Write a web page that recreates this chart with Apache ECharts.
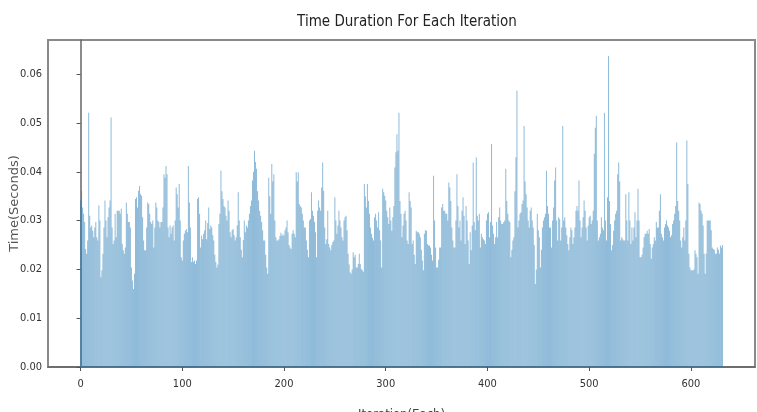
<!DOCTYPE html>
<html lang="en">
  <head>
    <meta charset="UTF-8" />
    <title>Time Duration For Each Iteration</title>
    <script src="https://cdn.jsdelivr.net/npm/echarts@6/dist/echarts.min.js"></script>
    <style>
      html,
      body {
        margin: 0;
        padding: 0;
        background: #fff;
      }
      #chart {
        width: 757px;
        height: 412px;
      }
    </style>
  </head>
  <body>
    <div id="chart"></div>
    <script>
      // time per iteration (seconds), iterations 0..631
      const part1 = [
        0.0341, 0.0361, 0.0327, 0.0314, 0.0297, 0.0242, 0.0232, 0.0259, 0.0521, 0.0310,
        0.0286, 0.0290, 0.0279, 0.0266, 0.0286, 0.0297, 0.0266, 0.0259, 0.0331, 0.0300,
        0.0184, 0.0198, 0.0232, 0.0286, 0.0341, 0.0300, 0.0266, 0.0307, 0.0327, 0.0341,
        0.0511, 0.0286, 0.0252, 0.0259, 0.0314, 0.0266, 0.0320, 0.0320, 0.0320, 0.0314,
        0.0324, 0.0252, 0.0239, 0.0232, 0.0245, 0.0337, 0.0314, 0.0297, 0.0297, 0.0286,
        0.0204, 0.0177, 0.0160, 0.0191, 0.0344, 0.0348, 0.0327, 0.0361, 0.0371, 0.0354,
        0.0351, 0.0307, 0.0259, 0.0239, 0.0239, 0.0286, 0.0337, 0.0334, 0.0314, 0.0297,
        0.0293, 0.0300, 0.0245, 0.0286, 0.0337, 0.0327, 0.0300, 0.0297, 0.0286, 0.0297,
        0.0297, 0.0327, 0.0395, 0.0388, 0.0412, 0.0395, 0.0286, 0.0266, 0.0290, 0.0273,
        0.0286, 0.0290, 0.0259, 0.0300, 0.0368, 0.0354, 0.0327, 0.0375, 0.0300, 0.0225,
        0.0218, 0.0259, 0.0273, 0.0279, 0.0283, 0.0276, 0.0412, 0.0337, 0.0286, 0.0215,
        0.0225, 0.0215, 0.0218, 0.0211, 0.0218, 0.0344, 0.0348, 0.0314
      ];
      const part2 = [
        0.0245, 0.0269, 0.0262, 0.0273, 0.0280, 0.0300, 0.0262, 0.0295, 0.0327, 0.0283,
        0.0290, 0.0286, 0.0270, 0.0259, 0.0230, 0.0215, 0.0204, 0.0210, 0.0293, 0.0314,
        0.0402, 0.0360, 0.0344, 0.0330, 0.0327, 0.0310, 0.0300, 0.0341, 0.0320, 0.0276,
        0.0266, 0.0280, 0.0283, 0.0270, 0.0259, 0.0266, 0.0290, 0.0358, 0.0300, 0.0266,
        0.0240, 0.0225, 0.0260, 0.0300, 0.0276, 0.0290, 0.0286, 0.0300, 0.0314, 0.0330,
        0.0341, 0.0382, 0.0400, 0.0443, 0.0420, 0.0406, 0.0360, 0.0341, 0.0320, 0.0310,
        0.0297, 0.0280, 0.0259, 0.0259, 0.0230, 0.0204, 0.0191, 0.0388, 0.0350, 0.0314,
        0.0416, 0.0380, 0.0395, 0.0300, 0.0266, 0.0259, 0.0259, 0.0262, 0.0269, 0.0275,
        0.0269, 0.0272, 0.0269, 0.0280, 0.0286, 0.0300, 0.0276, 0.0250, 0.0245, 0.0242,
        0.0273, 0.0280, 0.0273, 0.0266, 0.0399, 0.0380, 0.0399, 0.0334, 0.0330, 0.0327,
        0.0314, 0.0300, 0.0286, 0.0286, 0.0259, 0.0240, 0.0225, 0.0300, 0.0303, 0.0358,
        0.0320, 0.0310, 0.0297, 0.0276, 0.0225, 0.0320, 0.0341, 0.0327, 0.0320, 0.0368,
        0.0419, 0.0361, 0.0286, 0.0252, 0.0262, 0.0320, 0.0252, 0.0245
      ];
      const part3 = [
        0.0239, 0.0250, 0.0256, 0.0259, 0.0348, 0.0300, 0.0273, 0.0290, 0.0320, 0.0300,
        0.0286, 0.0266, 0.0259, 0.0300, 0.0307, 0.0310, 0.0280, 0.0232, 0.0210, 0.0194,
        0.0191, 0.0200, 0.0235, 0.0225, 0.0230, 0.0204, 0.0204, 0.0211, 0.0232, 0.0211,
        0.0201, 0.0198, 0.0195, 0.0375, 0.0350, 0.0327, 0.0375, 0.0340, 0.0314, 0.0286,
        0.0273, 0.0265, 0.0259, 0.0307, 0.0314, 0.0300, 0.0286, 0.0317, 0.0280, 0.0259,
        0.0204, 0.0365, 0.0358, 0.0351, 0.0341, 0.0320, 0.0307, 0.0293, 0.0327, 0.0300,
        0.0279, 0.0307, 0.0330, 0.0409, 0.0440, 0.0477, 0.0443, 0.0521, 0.0340, 0.0314,
        0.0266, 0.0290, 0.0314, 0.0320, 0.0300, 0.0259, 0.0252, 0.0358, 0.0340, 0.0327,
        0.0252, 0.0259, 0.0230, 0.0211, 0.0279, 0.0276, 0.0276, 0.0273, 0.0266, 0.0240,
        0.0218, 0.0198, 0.0273, 0.0280, 0.0279, 0.0252, 0.0249, 0.0249, 0.0245, 0.0230,
        0.0218, 0.0392, 0.0300, 0.0245, 0.0204, 0.0204, 0.0220, 0.0245, 0.0245, 0.0327,
        0.0334, 0.0320, 0.0320, 0.0314, 0.0314, 0.0300, 0.0378, 0.0368, 0.0340, 0.0286,
        0.0259, 0.0245, 0.0245, 0.0300, 0.0395, 0.0330, 0.0286, 0.0300
      ];
      const part4 = [
        0.0259, 0.0320, 0.0348, 0.0310, 0.0252, 0.0330, 0.0300, 0.0259, 0.0211, 0.0276,
        0.0239, 0.0290, 0.0419, 0.0297, 0.0280, 0.0429, 0.0310, 0.0300, 0.0314, 0.0245,
        0.0273, 0.0266, 0.0262, 0.0259, 0.0252, 0.0300, 0.0314, 0.0317, 0.0266, 0.0297,
        0.0457, 0.0290, 0.0273, 0.0252, 0.0266, 0.0297, 0.0266, 0.0307, 0.0327, 0.0300,
        0.0293, 0.0293, 0.0297, 0.0300, 0.0406, 0.0340, 0.0314, 0.0300, 0.0297, 0.0225,
        0.0240, 0.0259, 0.0266, 0.0360, 0.0430, 0.0566, 0.0286, 0.0300, 0.0314, 0.0317,
        0.0334, 0.0341, 0.0494, 0.0380, 0.0354, 0.0327, 0.0300, 0.0286, 0.0320, 0.0327,
        0.0300, 0.0286, 0.0250, 0.0170, 0.0200, 0.0314, 0.0280, 0.0266, 0.0204, 0.0240,
        0.0286, 0.0300, 0.0307, 0.0314, 0.0402, 0.0330, 0.0314, 0.0286, 0.0286, 0.0245,
        0.0300, 0.0327, 0.0382, 0.0409, 0.0300, 0.0259, 0.0307, 0.0303, 0.0259, 0.0286,
        0.0494, 0.0300, 0.0307, 0.0286, 0.0270, 0.0252, 0.0239, 0.0266, 0.0286, 0.0280,
        0.0252, 0.0266, 0.0286, 0.0320, 0.0330, 0.0320, 0.0382, 0.0300, 0.0266, 0.0286,
        0.0307, 0.0341, 0.0320, 0.0286, 0.0259, 0.0290, 0.0307, 0.0310
      ];
      const part5 = [
        0.0293, 0.0300, 0.0320, 0.0437, 0.0490, 0.0515, 0.0300, 0.0259, 0.0266, 0.0273,
        0.0307, 0.0286, 0.0280, 0.0521, 0.0300, 0.0259, 0.0348, 0.0637, 0.0340, 0.0293,
        0.0239, 0.0250, 0.0279, 0.0300, 0.0314, 0.0320, 0.0395, 0.0419, 0.0380, 0.0259,
        0.0266, 0.0262, 0.0259, 0.0259, 0.0354, 0.0300, 0.0259, 0.0358, 0.0300, 0.0252,
        0.0286, 0.0259, 0.0286, 0.0317, 0.0266, 0.0300, 0.0365, 0.0300, 0.0225, 0.0225,
        0.0230, 0.0245, 0.0266, 0.0273, 0.0273, 0.0279, 0.0273, 0.0283, 0.0252, 0.0222,
        0.0245, 0.0252, 0.0266, 0.0259, 0.0297, 0.0286, 0.0286, 0.0320, 0.0354, 0.0273,
        0.0266, 0.0259, 0.0286, 0.0293, 0.0300, 0.0290, 0.0286, 0.0279, 0.0266, 0.0270,
        0.0293, 0.0300, 0.0314, 0.0330, 0.0460, 0.0340, 0.0320, 0.0300, 0.0259, 0.0245,
        0.0266, 0.0286, 0.0259, 0.0300, 0.0464, 0.0375, 0.0232, 0.0204, 0.0198, 0.0198,
        0.0198, 0.0200, 0.0239, 0.0232, 0.0225, 0.0191, 0.0337, 0.0334, 0.0320, 0.0314,
        0.0290, 0.0232, 0.0191, 0.0232, 0.0300, 0.0300, 0.0300, 0.0300, 0.0280, 0.0245,
        0.0242, 0.0240, 0.0232, 0.0232, 0.0245, 0.0240, 0.0232, 0.0249, 0.0245, 0.0250
      ];
      const durations = part1.concat(part2, part3, part4, part5);

      const xTicks = [0, 100, 200, 300, 400, 500, 600];
      const yTicks = [0, 0.01, 0.02, 0.03, 0.04, 0.05, 0.06];

      const chart = echarts.init(document.getElementById("chart"));
      const narrow = "'Liberation Sans Narrow', 'DejaVu Sans Condensed', sans-serif";

      const option = {
        animation: false,
        title: {
          text: "Time Duration For Each Iteration",
          left: 402,
          top: 10,
          textAlign: "center",
          textStyle: {
            fontFamily: narrow,
            fontSize: 15,
            fontWeight: "normal",
            color: "#222",
          },
        },
        grid: {
          left: 48,
          right: 2,
          top: 40,
          bottom: 45,
          containLabel: false,
          outerBoundsMode: "none",
          show: true,
          borderColor: "#8a8a8a",
          borderWidth: 2,
        },
        xAxis: {
          type: "value",
          min: -32,
          max: 663,
          name: "Iteration(Each)",
          nameLocation: "middle",
          nameGap: 41,
          nameMoveOverlap: false,
          nameTextStyle: { fontFamily: narrow, fontSize: 13, color: "#444" },
          splitLine: { show: false },
          axisLine: { onZero: false, lineStyle: { color: "#666", width: 1.5 } },
          axisTick: { customValues: xTicks, length: 4, lineStyle: { color: "#555" } },
          axisLabel: {
            customValues: xTicks,
            margin: 12,
            fontFamily: narrow,
            fontSize: 11,
            color: "#333",
          },
        },
        yAxis: {
          type: "value",
          min: 0,
          max: 0.067,
          name: "Time(Seconds)",
          nameLocation: "middle",
          nameGap: 27,
          nameMoveOverlap: false,
          nameTextStyle: { fontFamily: "DejaVu Sans", fontSize: 13, color: "#555" },
          splitLine: { show: false },
          axisLine: { show: true, lineStyle: { color: "#666", width: 1.5 } },
          axisTick: { show: true, customValues: yTicks, length: 4, lineStyle: { color: "#555" } },
          axisLabel: {
            customValues: yTicks,
            margin: 6,
            fontFamily: narrow,
            fontSize: 11,
            color: "#333",
            formatter: (v) => v.toFixed(2),
          },
        },
        series: [
          {
            type: "bar",
            data: durations.map((v, i) => [i, v]),
            barWidth: 0.6,
            itemStyle: { color: "#1f77b4", opacity: 0.5 },
          },
        ],
      };

      chart.setOption(option);
    </script>
  </body>
</html>
